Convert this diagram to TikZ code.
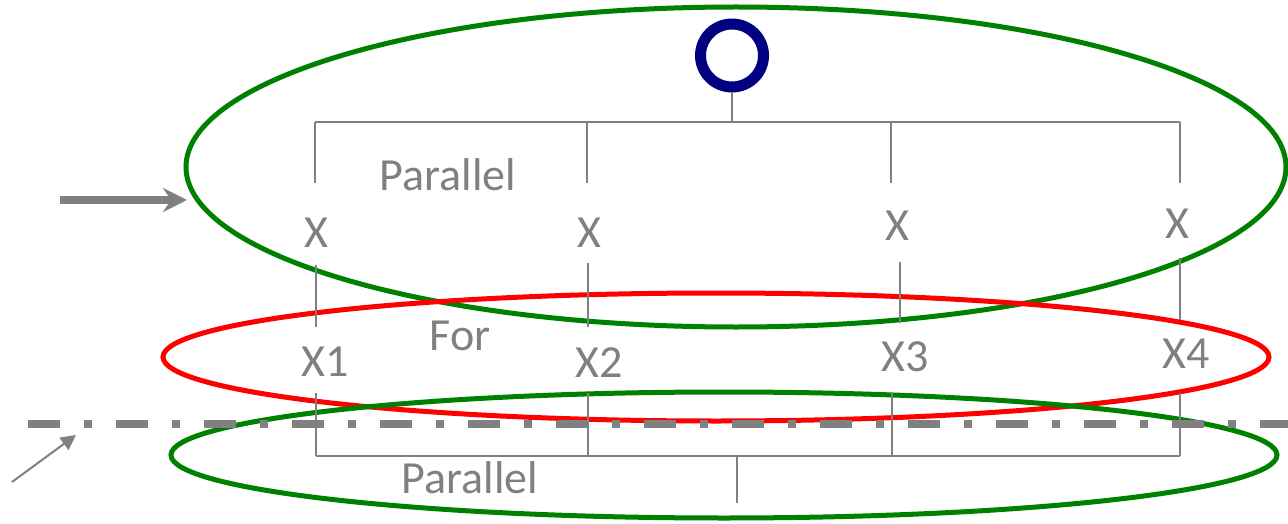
\documentclass[tikz,border=0pt]{standalone}
\usepackage{fontspec}
\setmainfont{Carlito}
\usetikzlibrary{arrows.meta}
\definecolor{navy}{RGB}{0,0,128}
\definecolor{leaf}{RGB}{0,128,0}
\tikzset{lbl/.style={text=gray,font=\fontsize{46}{50}\selectfont,inner sep=0pt,anchor=base},
  tree/.style={draw=gray,line width=2pt},
  ring/.style={line width=5pt},
  pointer/.style={draw=gray,line width=8pt,-{Stealth[length=24pt,width=24pt,inset=8pt]}}}

\begin{document}
\begin{tikzpicture}[x=1pt,y=-1pt]
\useasboundingbox (0,0) rectangle (1288,524);
% loops
\draw[ring,leaf] (736,167) ellipse[x radius=550pt,y radius=160pt];
\draw[ring,red] (716,357) ellipse[x radius=553pt,y radius=64pt];
\draw[ring,leaf] (724,455) ellipse[x radius=553pt,y radius=63pt];

% top level
\node[circle,draw=navy,line width=11pt,minimum size=63pt,inner sep=0pt] (root) at (732,55.5) {};
\coordinate (tb) at (732,122);
\foreach \i/\x in {1/315,2/587,3/891,4/1180} {
  \coordinate (ta\i) at (\x,122);
  \coordinate (tz\i) at (\x,183);
}
\draw[tree] (root.south) -- (tb);
\draw[tree] (ta1) -- (ta4);
\foreach \i in {1,...,4} \draw[tree] (ta\i) -- (tz\i);
\node[lbl] (par1) at (448,190) {Parallel};

\node[lbl] (x1) at (316,247) {X};
\node[lbl] (x2) at (589,247) {X};
\node[lbl] (x3) at (897,240) {X};
\node[lbl] (x4) at (1177,238) {X};

% middle level
\foreach \i/\x/\a/\b in {1/316/265/327,2/588/263/327,3/900/262/323,4/1180/258/320} {
  \coordinate (ma\i) at (\x,\a);
  \coordinate (mz\i) at (\x,\b);
  \draw[tree] (ma\i) -- (mz\i);
}
\node[lbl] (for) at (460,350) {For};
\node[lbl] (v1) at (325,376) {X1};
\node[lbl] (v2) at (599,377) {X2};
\node[lbl] (v3) at (905,371) {X3};
\node[lbl] (v4) at (1186,368) {X4};

% bottom level
\foreach \i/\x in {1/316,2/588,3/892,4/1180} {
  \coordinate (ba\i) at (\x,393);
  \coordinate (bz\i) at (\x,456);
  \draw[tree] (ba\i) -- (bz\i);
}
\coordinate (bm) at (737,456);
\coordinate (bend) at (737,503);
\draw[tree] (bz1) -- (bz4);
\draw[tree] (bm) -- (bend);
\node[lbl] (par2) at (470,493) {Parallel};

% cut line and pointers
\coordinate (dl) at (28,424);
\coordinate (dr) at (1288,424);
\draw[gray,line width=8pt,dash pattern=on 32pt off 24pt on 8pt off 24pt] (dl) -- (dr);
\coordinate (pa) at (60,200);
\coordinate (pb) at (187,200);
\draw[pointer] (pa) -- (pb);
\coordinate (qa) at (12,482);
\coordinate (qb) at (76,435);
\draw[gray,line width=2pt,-{Triangle[length=15pt,width=15pt]}] (qa) -- (qb);
\end{tikzpicture}
\end{document}
